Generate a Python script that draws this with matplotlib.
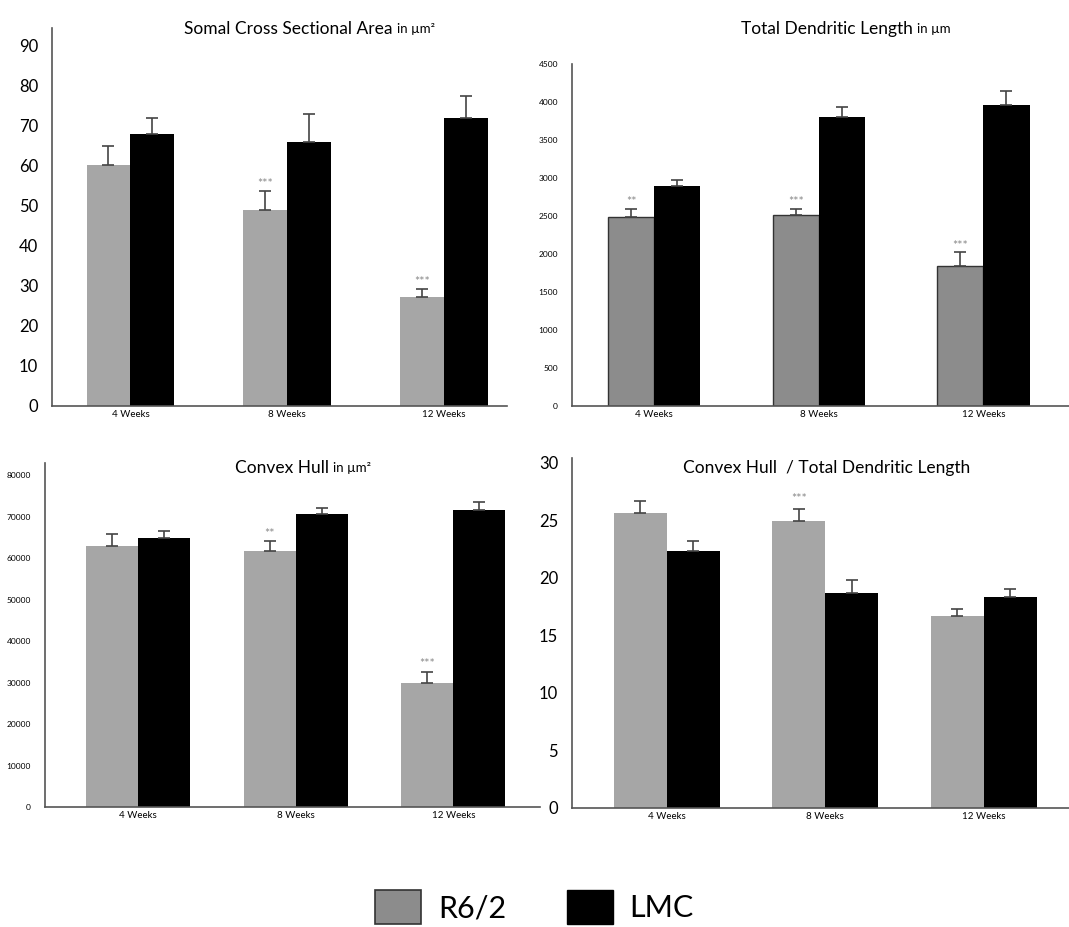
import matplotlib.pyplot as plt
from matplotlib.patches import Patch

plt.rcParams['font.family'] = ['Lato', 'DejaVu Sans']

W, H = 1069, 927

weeks = ['4 Weeks', '8 Weeks', '12 Weeks']

# Somal cross sectional area (um^2)
soma_r62 = [60.3, 49.0, 27.2]
soma_r62_err = [4.7, 4.7, 2.0]
soma_lmc = [68.0, 66.0, 72.0]
soma_lmc_err = [4.0, 7.0, 5.5]
soma_stars = ['', '***', '***']

# Total dendritic length (um)
tdl_r62 = [2490, 2510, 1840]
tdl_r62_err = [100, 80, 180]
tdl_lmc = [2900, 3800, 3960]
tdl_lmc_err = [80, 130, 190]
tdl_stars = ['**', '***', '***']

# Convex hull (um^2)
hull_r62 = [63000, 61800, 30000]
hull_r62_err = [2800, 2200, 2500]
hull_lmc = [64800, 70500, 71600]
hull_lmc_err = [1600, 1500, 1800]
hull_stars = ['', '**', '***']

# Convex hull / total dendritic length
ratio_r62 = [25.6, 24.9, 16.7]
ratio_r62_err = [1.1, 1.1, 0.6]
ratio_lmc = [22.3, 18.7, 18.3]
ratio_lmc_err = [0.9, 1.1, 0.7]
ratio_stars = ['', '***', '']

fig = plt.figure(figsize=(W / 100, H / 100), dpi=100)


def px_axes(left, top, right, bottom):
    return fig.add_axes([left / W, 1 - bottom / H, (right - left) / W, (bottom - top) / H])


def draw_panel(ax, r62, r62_err, lmc, lmc_err, stars, width, gray, edge, xlim, ylim,
               yticks, ytick_size, star_off):
    x = range(len(weeks))
    xl = [i - width / 2 for i in x]
    xr = [i + width / 2 for i in x]
    ax.bar(xl, r62, width, color=gray, edgecolor=edge, linewidth=1.0 if edge != gray else 0)
    ax.bar(xr, lmc, width, color='black', edgecolor='black', linewidth=0)
    ax.errorbar(xl, r62, yerr=[[0] * 3, r62_err], fmt='none', ecolor='#444444',
                elinewidth=1.2, capsize=4, capthick=1.2)
    ax.errorbar(xr, lmc, yerr=[[0] * 3, lmc_err], fmt='none', ecolor='#444444',
                elinewidth=1.2, capsize=4, capthick=1.2)
    for i in x:
        if stars[i]:
            ax.text(xl[i], r62[i] + r62_err[i] + star_off, stars[i], ha='center', va='bottom',
                    fontsize=9, color='#888888')
    ax.set_xlim(*xlim)
    ax.set_ylim(*ylim)
    ax.set_xticks(list(x))
    ax.set_xticklabels(weeks, fontsize=7)
    ax.set_yticks(yticks)
    ax.tick_params(axis='y', labelsize=ytick_size, length=0, pad=10)
    ax.tick_params(axis='x', length=0, pad=3)
    for s in ['top', 'right']:
        ax.spines[s].set_visible(False)
    for s in ['left', 'bottom']:
        ax.spines[s].set_color('#555555')
        ax.spines[s].set_linewidth(1.2)


ax1 = px_axes(52, 28, 507, 406)
draw_panel(ax1, soma_r62, soma_r62_err, soma_lmc, soma_lmc_err, soma_stars, 0.28,
           '#a6a6a6', '#a6a6a6', (-0.5, 2.4), (0, 94.5), range(0, 91, 10), 12, 0.3)

ax2 = px_axes(572, 64, 1069, 406)
draw_panel(ax2, tdl_r62, tdl_r62_err, tdl_lmc, tdl_lmc_err, tdl_stars, 0.28,
           '#8c8c8c', '#333333', (-0.5, 2.52), (0, 4500), range(0, 4501, 500), 6, 10)

ax3 = px_axes(45, 463, 540, 807)
draw_panel(ax3, hull_r62, hull_r62_err, hull_lmc, hull_lmc_err, hull_stars, 0.33,
           '#a6a6a6', '#a6a6a6', (-0.59, 2.55), (0, 82900), range(0, 80001, 10000), 6, 400)

ax4 = px_axes(572, 458, 1069, 808)
draw_panel(ax4, ratio_r62, ratio_r62_err, ratio_lmc, ratio_lmc_err, ratio_stars, 0.335,
           '#a6a6a6', '#a6a6a6', (-0.6, 2.54), (0, 30.4), range(0, 31, 5), 12, 0.3)


def title(x_split, y, main, small):
    fig.text(x_split / W, 1 - y / H, main, ha='right', va='center', fontsize=12.5)
    if small:
        fig.text((x_split + 4) / W, 1 - y / H, small, ha='left', va='center', fontsize=9.5)


title(393, 29, 'Somal Cross Sectional Area', 'in µm²')
title(913, 29, 'Total Dendritic Length', 'in µm')
title(329, 468, 'Convex Hull', 'in µm²')
fig.text(827 / W, 1 - 468 / H, 'Convex Hull  / Total Dendritic Length', ha='center', va='center',
         fontsize=12.5)

handles = [Patch(facecolor='#8c8c8c', edgecolor='#333333', linewidth=1.2, label='R6/2'),
           Patch(facecolor='black', edgecolor='black', label='LMC')]
fig.legend(handles=handles, loc='center', bbox_to_anchor=(0.5, 1 - 907 / H), ncol=2,
           frameon=False, fontsize=22, handlelength=1.5, handleheight=1.3,
           columnspacing=2.0, handletextpad=0.55, borderpad=0)

fig.savefig('out.png', dpi=100)
